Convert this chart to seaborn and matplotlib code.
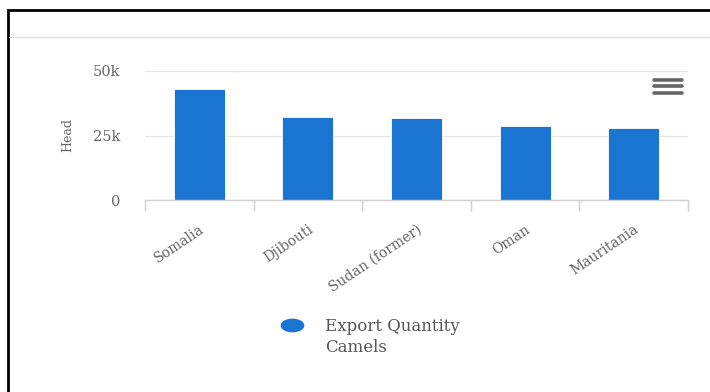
import matplotlib
matplotlib.use("Agg")
import matplotlib.pyplot as plt
import seaborn as sns
import pandas as pd
import numpy as np
from matplotlib.lines import Line2D
from matplotlib.patches import Rectangle
from matplotlib.path import Path

categories = ["Somalia", "Djibouti", "Sudan (former)", "Oman", "Mauritania"]
values = [43000, 32200, 31800, 28700, 27900]
yticks = [0, 25000, 50000]
yticklabels = ["0", "25k", "50k"]
series_lines = ["Export Quantity", "Camels"]

sns.set_theme(style="white")
plt.rcParams["font.family"] = ["DejaVu Serif"]

W, H = 710, 392
fig = plt.figure(figsize=(W / 100, H / 100), dpi=100)
fig.patch.set_facecolor("white")

BLUE = "#1a75d2"
ax = fig.add_axes([145 / W, 1 - 200 / H, (688 - 145) / W, (200 - 71) / H])
df = pd.DataFrame({"cat": categories, "val": values})
sns.barplot(data=df, x="cat", y="val", color=BLUE, width=0.47,
            saturation=1, ax=ax, edgecolor="white", linewidth=0.6)

ax.set_ylim(0, 50000)
ax.set_xlim(-0.5, len(categories) - 0.5)
ax.set_yticks(yticks)
ax.set_yticklabels(yticklabels, fontsize=10.5, color="#666666")
ax.yaxis.grid(True, color="#e6e6e6", linewidth=1)
ax.set_axisbelow(True)
ax.tick_params(axis="y", length=0, pad=18)
ax.set_ylabel("Head", fontsize=9, color="#666666", labelpad=13)
ax.set_xlabel("")

ax.set_xticks(range(len(categories)))
ax.set_xticklabels(categories, rotation=34, ha="right", rotation_mode="anchor",
                   fontsize=10, color="#666666")
ax.tick_params(axis="x", length=0, pad=16)
ax.set_xticks([i - 0.5 for i in range(len(categories) + 1)], minor=True)
ax.tick_params(axis="x", which="minor", length=8, color="#d0d0d0", width=1,
               direction="out", bottom=True)

for s in ["top", "right", "left"]:
    ax.spines[s].set_visible(False)
ax.spines["bottom"].set_color("#d0d0d0")
ax.spines["bottom"].set_linewidth(1)

# frame border and header separator
fig.add_artist(Rectangle((8 / W, -0.05), 1.0, 1 - 10 / H + 0.05, transform=fig.transFigure,
                         fill=False, edgecolor="black", linewidth=2))
fig.add_artist(Line2D([9 / W, 1], [1 - 37 / H, 1 - 37 / H], transform=fig.transFigure,
                      color="#e0e0e0", linewidth=1))

# hamburger icon
for yy in [79.5, 86, 92.5]:
    fig.add_artist(Line2D([654 / W, 682 / W], [1 - yy / H, 1 - yy / H], transform=fig.transFigure,
                          color="#666666", linewidth=2.6, solid_capstyle="round"))

# legend with ellipse marker
circ = Path.unit_circle()
ell = Path(circ.vertices * np.array([1.8, 1.0]), circ.codes)
handle = Line2D([], [], marker=ell, linestyle="none", markersize=16,
                markerfacecolor=BLUE, markeredgecolor=BLUE)
FS = 12
leg = fig.legend([handle], [series_lines[0]], loc="center left",
                 bbox_to_anchor=(282 / W, 1 - 326.5 / H), frameon=False,
                 fontsize=FS, labelcolor="#555555", handletextpad=1.38,
                 handlelength=1.2, borderaxespad=0, borderpad=0)
fig.canvas.draw()
tb = leg.get_texts()[0].get_window_extent()
fig.text(tb.x0 / W, 1 - 352 / H, series_lines[1], fontsize=FS,
         color="#555555", ha="left", va="baseline")

fig.savefig("out.png", dpi=100)
